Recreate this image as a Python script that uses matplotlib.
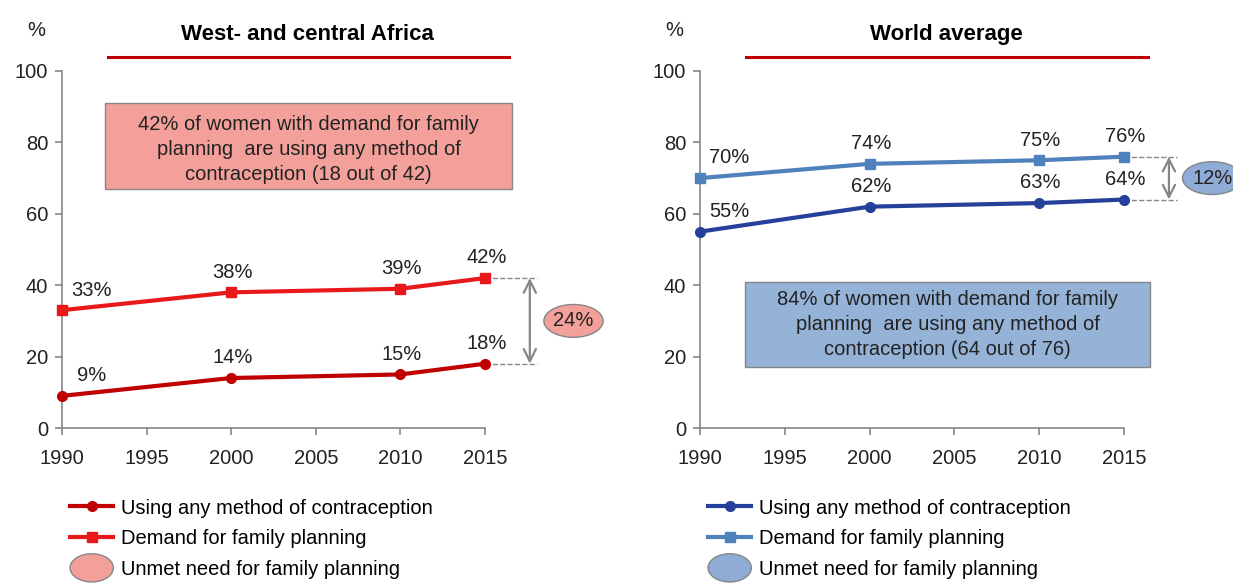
import numpy as np
import matplotlib
matplotlib.use("Agg")
import matplotlib.pyplot as plt
from matplotlib.patches import Ellipse, Rectangle
from matplotlib.legend_handler import HandlerPatch

plt.rcParams.update({'font.size': 14.5, 'font.family': 'sans-serif',
                     'font.sans-serif': ['Liberation Sans', 'DejaVu Sans']})

years = [1990, 2000, 2010, 2015]
wca_using = [9, 14, 15, 18]
wca_demand = [33, 38, 39, 42]
world_using = [55, 62, 63, 64]
world_demand = [70, 74, 75, 76]
titles = ["West- and central Africa", "World average"]
box_texts = ["42% of women with demand for family\nplanning  are using any method of\ncontraception (18 out of 42)",
             "84% of women with demand for family\nplanning  are using any method of\ncontraception (64 out of 76)"]
gaps = ["24%", "12%"]

DRED = "#C00000"; RED = "#E8191B"; SALMON = "#F4A09A"
DBLUE = "#25409A"; LBLUE = "#4F81BD"; SKY = "#95B3D7"; ESKY = "#8EACD6"
GRAY = "#868686"; TXT = "#222222"

W, H = 1233, 583
fig = plt.figure(figsize=(W/100, H/100), dpi=100)
fig.patch.set_facecolor('white')

def px_axes(x0, x1, y0, y1):
    return fig.add_axes([x0/W, 1-y1/H, (x1-x0)/W, (y1-y0)/H])

axL = px_axes(62, 485, 71, 428)
axR = px_axes(700, 1124, 71, 428)

specs = [
    dict(ax=axL, using=wca_using, demand=wca_demand, c_use=DRED, c_dem=RED, c_fill=SALMON,
         c_ell=SALMON, box=(1992.55, 66.9, 24.05, 24.1), box_y=77.9, ell_x=2020.23),
    dict(ax=axR, using=world_using, demand=world_demand, c_use=DBLUE, c_dem=LBLUE, c_fill=SKY,
         c_ell=ESKY, box=(1992.65, 17.1, 23.9, 23.8), box_y=29.1, ell_x=2020.2),
]

def make_ellipse(legend, orig_handle, xdescent, ydescent, width, height, fontsize):
    return Ellipse((width/2 - xdescent, height/2 - ydescent), width*1.0, height*2.0)

for i, sp in enumerate(specs):
    ax = sp['ax']
    ax.set_xlim(1990, 2015); ax.set_ylim(0, 100)
    ax.set_xticks(range(1990, 2016, 5)); ax.set_yticks(range(0, 101, 20))
    for s in ['top', 'right']:
        ax.spines[s].set_visible(False)
    for s in ['left', 'bottom']:
        ax.spines[s].set_color(GRAY); ax.spines[s].set_linewidth(1.2)
    ax.tick_params(axis='y', colors=GRAY, labelcolor=TXT, length=5, width=1.2, pad=5)
    ax.tick_params(axis='x', colors=GRAY, labelcolor=TXT, length=5, width=1.2, pad=10)

    ax.plot(years, sp['using'], '-o', color=sp['c_use'], lw=3, ms=7, clip_on=False, zorder=5,
            label="Using any method of contraception")
    ax.plot(years, sp['demand'], '-s', color=sp['c_dem'], lw=3, ms=7.2, clip_on=False, zorder=5,
            label="Demand for family planning")

    for j, (x, u, d) in enumerate(zip(years, sp['using'], sp['demand'])):
        dx = 21 if j == 0 else 1
        for v in (u, d):
            ax.annotate(f"{v}%", (x, v), xytext=(dx, 14.5), textcoords='offset points',
                        ha='center', va='center', color=TXT)

    # gap annotation at 2015
    u, d = sp['using'][-1], sp['demand'][-1]
    for v in (u, d):
        ax.plot([2015, 2018.1], [v, v], '--', color=GRAY, lw=1, clip_on=False, zorder=2)
    ax.annotate("", xy=(2017.65, d), xytext=(2017.65, u),
                arrowprops=dict(arrowstyle='<->', color=GRAY, lw=1.6, mutation_scale=22,
                                shrinkA=0, shrinkB=0), annotation_clip=False)
    ax.add_patch(Ellipse((sp['ell_x'], (u+d)/2), 3.5, 9.2, facecolor=sp['c_ell'],
                         edgecolor=GRAY, lw=1, clip_on=False, zorder=3))
    ax.text(sp['ell_x'], (u+d)/2, gaps[i], ha='center', va='center', color=TXT,
            zorder=4, clip_on=False)

    # text box
    bx, by, bw, bh = sp['box']
    ax.add_patch(Rectangle((bx, by), bw, bh, facecolor=sp['c_fill'], edgecolor=GRAY, lw=1,
                           clip_on=False, zorder=1))
    ax.text(bx + bw/2, sp['box_y'], box_texts[i], ha='center', va='center',
            color=TXT, linespacing=1.4, zorder=2)

    # title and underline
    ax.text(2004.5, 110.3, titles[i], ha='center', va='center', fontsize=16, fontweight='bold',
            clip_on=False)
    ax.plot([1992.7, 2016.4], [103.9, 103.9], color=DRED, lw=2.2, clip_on=False)
    ax.text(1988.5, 111.3, "%", ha='center', va='center', color=TXT, clip_on=False)

    handles, labels = ax.get_legend_handles_labels()
    ell = Ellipse((0, 0), 1, 1, facecolor=sp['c_ell'], edgecolor=GRAY, lw=1)
    handles.append(ell); labels.append("Unmet need for family planning")
    ax.legend(handles, labels, loc='upper left', bbox_to_anchor=(0.0, -0.175), frameon=False,
              handlelength=2.15, handletextpad=0.4, labelspacing=0.58,
              borderaxespad=0, handler_map={Ellipse: HandlerPatch(patch_func=make_ellipse)})

fig.savefig("out.png", dpi=100, facecolor='white')
